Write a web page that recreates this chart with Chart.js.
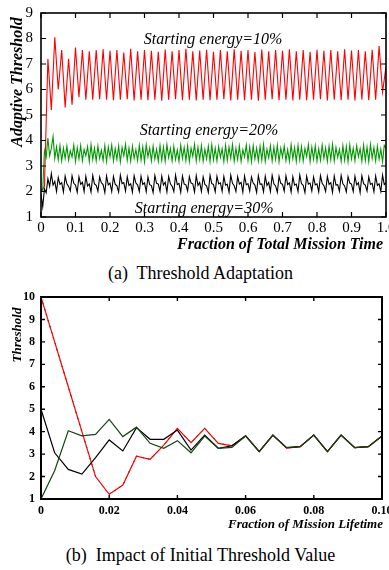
<!DOCTYPE html>
<html>
<head>
<meta charset="utf-8">
<script src="https://cdn.jsdelivr.net/npm/chart.js@4.4.1/dist/chart.umd.min.js"></script>
<style>
  body { margin: 0; background: #fff; width: 389px; height: 570px; position: relative; overflow: hidden; font-family: 'Liberation Serif', 'Times New Roman', serif; }
  .box { position: absolute; left: 0; width: 389px; }
  .caption { position: absolute; left: 6px; width: 389px; text-align: center; font-size: 18px; line-height: 21px; color: #000; white-space: pre; }
</style>
</head>
<body>
<div class="box" style="top:0;height:258px"><canvas id="adaptChart"></canvas></div>
<div class="caption" style="top:263px">(a)  Threshold Adaptation</div>
<div class="box" style="top:285px;height:250px"><canvas id="initChart"></canvas></div>
<div class="caption" style="top:545px">(b)  Impact of Initial Threshold Value</div>
<script>
// ---- (a) Threshold adaptation, sampled every 0.01 (red) / 0.005 (green, black)
const RED_STEP = 0.01;
const FINE_STEP = 0.005;

const energy10 = [
  2.0, 2.2, 7.2, 5.2, 8.05, 6.0, 7.55, 5.3, 7.2, 5.4,
  7.65, 5.7, 7.55, 5.6, 7.5, 5.6, 7.55, 5.62, 7.58, 5.6,
  7.52, 5.58, 7.55, 5.6, 7.45, 5.62, 7.6, 5.57, 7.5, 5.6,
  7.55, 5.58, 7.52, 5.6, 7.48, 5.56, 7.57, 5.6, 7.5, 5.62,
  7.55, 5.58, 7.6, 5.6, 7.5, 5.57, 7.53, 5.6, 7.56, 5.58,
  7.48, 5.6, 7.55, 5.62, 7.5, 5.57, 7.58, 5.6, 7.52, 5.58,
  7.55, 5.6, 7.47, 5.56, 7.57, 5.6, 7.5, 5.62, 7.55, 5.58,
  7.52, 5.6, 7.58, 5.57, 7.5, 5.6, 7.55, 5.58, 7.48, 5.6,
  7.56, 5.62, 7.52, 5.57, 7.55, 5.6, 7.5, 5.58, 7.58, 5.6,
  7.53, 5.57, 7.55, 5.6, 7.5, 5.58, 7.56, 5.6, 7.7, 5.9,
  6.9
];

const energy20 = [
  2.1, 2.05, 3.6, 3.35, 4.1, 3.4, 3.7, 4.15, 3.3, 3.75,
  3.25, 3.8, 3.2, 3.7, 3.3, 3.78, 3.22, 3.6, 3.35, 3.82,
  3.18, 3.72, 3.28, 3.8, 3.2, 3.65, 3.4, 3.76, 3.17, 3.84,
  3.25, 3.7, 3.2, 3.78, 3.3, 3.62, 3.22, 3.8, 3.18, 3.74,
  3.35, 3.82, 3.2, 3.68, 3.26, 3.79, 3.16, 3.73, 3.4, 3.85,
  3.22, 3.7, 3.19, 3.77, 3.3, 3.64, 3.21, 3.81, 3.24, 3.75,
  3.17, 3.83, 3.36, 3.7, 3.2, 3.78, 3.27, 3.66, 3.19, 3.8,
  3.23, 3.74, 3.18, 3.84, 3.33, 3.69, 3.2, 3.77, 3.25, 3.63,
  3.18, 3.82, 3.3, 3.72, 3.21, 3.79, 3.17, 3.7, 3.38, 3.85,
  3.2, 3.73, 3.26, 3.8, 3.19, 3.65, 3.28, 3.78, 3.18, 3.83,
  3.24, 3.7, 3.2, 3.76, 3.34, 3.68, 3.17, 3.81, 3.22, 3.74,
  3.3, 3.84, 3.19, 3.69, 3.25, 3.79, 3.18, 3.64, 3.36, 3.82,
  3.21, 3.75, 3.17, 3.8, 3.28, 3.7, 3.2, 3.77, 3.23, 3.85,
  3.18, 3.66, 3.32, 3.79, 3.2, 3.73, 3.26, 3.82, 3.17, 3.7,
  3.35, 3.78, 3.21, 3.64, 3.19, 3.83, 3.29, 3.72, 3.18, 3.8,
  3.24, 3.76, 3.2, 3.69, 3.37, 3.84, 3.17, 3.74, 3.27, 3.79,
  3.19, 3.67, 3.22, 3.82, 3.3, 3.71, 3.18, 3.78, 3.25, 3.85,
  3.2, 3.73, 3.34, 3.65, 3.18, 3.8, 3.23, 3.76, 3.17, 3.83,
  3.28, 3.7, 3.2, 3.79, 3.36, 3.68, 3.19, 3.82, 3.22, 3.74,
  3.18, 3.85, 3.3, 3.72, 3.2, 3.77, 3.26, 3.66, 3.17, 3.81,
  3.7
];

const energy30 = [
  1.9, 1.4, 2.1, 1.95, 2.5, 2.2, 2.7, 2.25, 2.4, 2.0,
  2.55, 2.28, 2.35, 1.98, 2.6, 2.3, 2.2, 2.02, 2.62, 2.32,
  2.25, 1.97, 2.58, 2.28, 2.36, 2.0, 2.6, 2.22, 2.3, 1.98,
  2.63, 2.3, 2.24, 2.01, 2.57, 2.34, 2.27, 1.96, 2.61, 2.26,
  2.33, 2.0, 2.59, 2.29, 2.22, 1.98, 2.64, 2.31, 2.35, 2.02,
  2.58, 2.24, 2.3, 1.97, 2.62, 2.33, 2.26, 2.0, 2.6, 2.28,
  2.34, 1.99, 2.57, 2.27, 2.23, 1.96, 2.63, 2.32, 2.29, 2.01,
  2.6, 2.25, 2.36, 1.98, 2.59, 2.3, 2.21, 2.0, 2.64, 2.27,
  2.32, 1.97, 2.61, 2.29, 2.26, 2.02, 2.58, 2.33, 2.3, 1.98,
  2.62, 2.24, 2.35, 2.0, 2.57, 2.28, 2.22, 1.96, 2.63, 2.31,
  2.27, 1.99, 2.6, 2.3, 2.34, 2.01, 2.59, 2.25, 2.28, 1.97,
  2.64, 2.32, 2.23, 2.0, 2.58, 2.29, 2.36, 1.98, 2.61, 2.26,
  2.31, 2.02, 2.57, 2.33, 2.25, 1.96, 2.62, 2.28, 2.3, 1.99,
  2.6, 2.24, 2.35, 2.0, 2.63, 2.3, 2.22, 1.97, 2.59, 2.32,
  2.28, 2.01, 2.61, 2.27, 2.34, 1.98, 2.58, 2.25, 2.29, 2.0,
  2.64, 2.31, 2.24, 1.96, 2.6, 2.29, 2.33, 2.02, 2.57, 2.26,
  2.3, 1.99, 2.62, 2.32, 2.23, 2.0, 2.59, 2.28, 2.35, 1.97,
  2.61, 2.25, 2.27, 2.01, 2.63, 2.3, 2.22, 1.98, 2.58, 2.33,
  2.29, 2.0, 2.6, 2.26, 2.34, 1.96, 2.62, 2.31, 2.25, 2.02,
  2.57, 2.28, 2.32, 1.99, 2.61, 2.24, 2.3, 2.0, 2.64, 2.27,
  2.35
];

// ---- (b) Impact of initial threshold value
const lifetime = [0, 0.004, 0.008, 0.012, 0.016, 0.02, 0.024, 0.028, 0.032, 0.036,
  0.04, 0.044, 0.048, 0.052, 0.056, 0.06, 0.064, 0.068, 0.072, 0.076,
  0.08, 0.084, 0.088, 0.092, 0.096, 0.1];
const init10 = [10, 8, 6, 4, 2, 1.21, 1.62, 2.91, 2.77, 3.4, 4.15, 3.51, 4.15, 3.48, 3.37,
  3.81, 3.11, 3.85, 3.27, 3.33, 3.85, 3.11, 3.85, 3.29, 3.33, 3.81];
const init5 = [5.0, 3.06, 2.32, 2.11, 2.84, 3.63, 3.14, 4.18, 3.66, 3.66, 4.07, 3.18, 3.85, 3.26, 3.37,
  3.81, 3.11, 3.85, 3.29, 3.33, 3.85, 3.11, 3.85, 3.29, 3.33, 3.81];
const init1 = [1.0, 2.26, 4.04, 3.81, 3.88, 4.55, 3.78, 4.2, 3.48, 3.26, 3.6, 3.06, 3.8, 3.26, 3.3,
  3.81, 3.11, 3.85, 3.29, 3.33, 3.85, 3.11, 3.85, 3.29, 3.33, 3.81];

const SERIF = "'Liberation Serif', 'Times New Roman', serif";
Chart.defaults.font.family = SERIF;
Chart.defaults.color = '#000';
Chart.defaults.animation = false;

const toPoints = (vals, step) => vals.map((v, i) => ({ x: i * step, y: v }));
const onGrid = (xs, vals) => vals.map((v, i) => ({ x: xs[i], y: v }));

// frame round the plot plus inward ticks on all four sides
const frameTicks = {
  id: 'frameTicks',
  afterDatasetsDraw(chart, args, opts) {
    const { ctx, chartArea: a, scales: { x, y } } = chart;
    ctx.save();
    ctx.strokeStyle = '#000';
    ctx.lineWidth = opts.tickWidth;
    ctx.beginPath();
    x.ticks.forEach(t => {
      const px = x.getPixelForValue(t.value);
      ctx.moveTo(px, a.bottom); ctx.lineTo(px, a.bottom - opts.len);
      ctx.moveTo(px, a.top); ctx.lineTo(px, a.top + opts.len);
    });
    y.ticks.forEach(t => {
      const py = y.getPixelForValue(t.value);
      ctx.moveTo(a.left, py); ctx.lineTo(a.left + opts.len, py);
      ctx.moveTo(a.right, py); ctx.lineTo(a.right - opts.len, py);
    });
    ctx.stroke();
    ctx.lineWidth = opts.frameWidth;
    ctx.strokeRect(a.left, a.top, a.width, a.height);
    ctx.restore();
  }
};

// free text: either in data units (x/y) or in canvas pixels (px/py)
const textLabels = {
  id: 'textLabels',
  afterDraw(chart, args, opts) {
    const { ctx, scales } = chart;
    opts.items.forEach(it => {
      const px = it.x !== undefined ? scales.x.getPixelForValue(it.x) : it.px;
      const py = it.y !== undefined ? scales.y.getPixelForValue(it.y) : it.py;
      ctx.save();
      ctx.font = it.font;
      ctx.fillStyle = '#000';
      ctx.textAlign = it.align || 'left';
      ctx.textBaseline = 'middle';
      ctx.translate(px, py);
      if (it.rot) ctx.rotate(it.rot);
      ctx.fillText(it.text, 0, 0);
      ctx.restore();
    });
  }
};

const fixBox = (w, h) => scale => {
  if (w !== null) scale.width = w;
  if (h !== null) scale.height = h;
  scale.paddingLeft = 0; scale.paddingRight = 0;
  scale.paddingTop = 0; scale.paddingBottom = 0;
};

const line = (data, color, width, dash) => ({
  data, borderColor: color, borderWidth: width, borderDash: dash || [],
  pointRadius: 0, tension: 0, fill: false
});

const noGrid = { display: false, drawTicks: false };

new Chart(document.getElementById('adaptChart'), {
  type: 'line',
  data: {
    datasets: [
      line(toPoints(energy30, FINE_STEP), '#000000', 1.1),
      line(toPoints(energy20, FINE_STEP), '#009a00', 1.1),
      line(toPoints(energy10, RED_STEP), '#ff0000', 1.1)
    ]
  },
  options: {
    responsive: true,
    maintainAspectRatio: false,
    layout: { padding: { top: 13, right: 3, left: 0, bottom: 0 } },
    plugins: {
      legend: { display: false },
      tooltip: { enabled: false },
      frameTicks: { len: 5, tickWidth: 1.2, frameWidth: 1.6 },
      textLabels: {
        items: [
          { text: 'Starting energy=10%', x: 0.298, y: 7.95, font: 'italic 16px ' + SERIF },
          { text: 'Starting energy=20%', x: 0.286, y: 4.37, font: 'italic 16px ' + SERIF },
          { text: 'Starting energy=30%', x: 0.272, y: 1.33, font: 'italic 16px ' + SERIF },
          { text: 'Adaptive Threshold', px: 17.5, py: 82, rot: -Math.PI / 2, align: 'center', font: 'bold italic 16px ' + SERIF },
          { text: 'Fraction of Total Mission Time', px: 383, py: 245, align: 'right', font: 'bold italic 16px ' + SERIF }
        ]
      }
    },
    scales: {
      x: {
        type: 'linear', min: 0, max: 1,
        grid: noGrid, border: { display: false },
        ticks: { stepSize: 0.1, padding: 2, maxRotation: 0, font: { size: 15 } },
        afterFit: fixBox(null, 41)
      },
      y: {
        min: 1, max: 9,
        grid: noGrid, border: { display: false },
        ticks: { stepSize: 1, padding: 8, font: { size: 15 } },
        afterFit: fixBox(41, null)
      }
    }
  },
  plugins: [frameTicks, textLabels]
});

new Chart(document.getElementById('initChart'), {
  type: 'line',
  data: {
    datasets: [
      line(onGrid(lifetime, init1), '#154515', 1.2),
      line(onGrid(lifetime, init5), '#000000', 1.2),
      line(onGrid(lifetime, init10), '#ff0000', 1.2),
      line(onGrid(lifetime, init10), '#000000', 1, [2, 4])
    ]
  },
  options: {
    responsive: true,
    maintainAspectRatio: false,
    layout: { padding: { top: 12, right: 7, left: 0, bottom: 0 } },
    plugins: {
      legend: { display: false },
      tooltip: { enabled: false },
      frameTicks: { len: 4, tickWidth: 1.4, frameWidth: 2 },
      textLabels: {
        items: [
          { text: 'Threshold', px: 17.5, py: 50, rot: -Math.PI / 2, align: 'center', font: 'bold italic 13px ' + SERIF },
          { text: 'Fraction of Mission Lifetime', px: 383, py: 240, align: 'right', font: 'bold italic 13px ' + SERIF }
        ]
      }
    },
    scales: {
      x: {
        type: 'linear', min: 0, max: 0.1,
        grid: noGrid, border: { display: false },
        ticks: { stepSize: 0.02, padding: 5, maxRotation: 0, font: { size: 12, weight: 'bold' } },
        afterFit: fixBox(null, 36)
      },
      y: {
        min: 1, max: 10,
        grid: noGrid, border: { display: false },
        ticks: { stepSize: 1, padding: 6, font: { size: 12, weight: 'bold' } },
        afterFit: fixBox(41, null)
      }
    }
  },
  plugins: [frameTicks, textLabels]
});
</script>
</body>
</html>
